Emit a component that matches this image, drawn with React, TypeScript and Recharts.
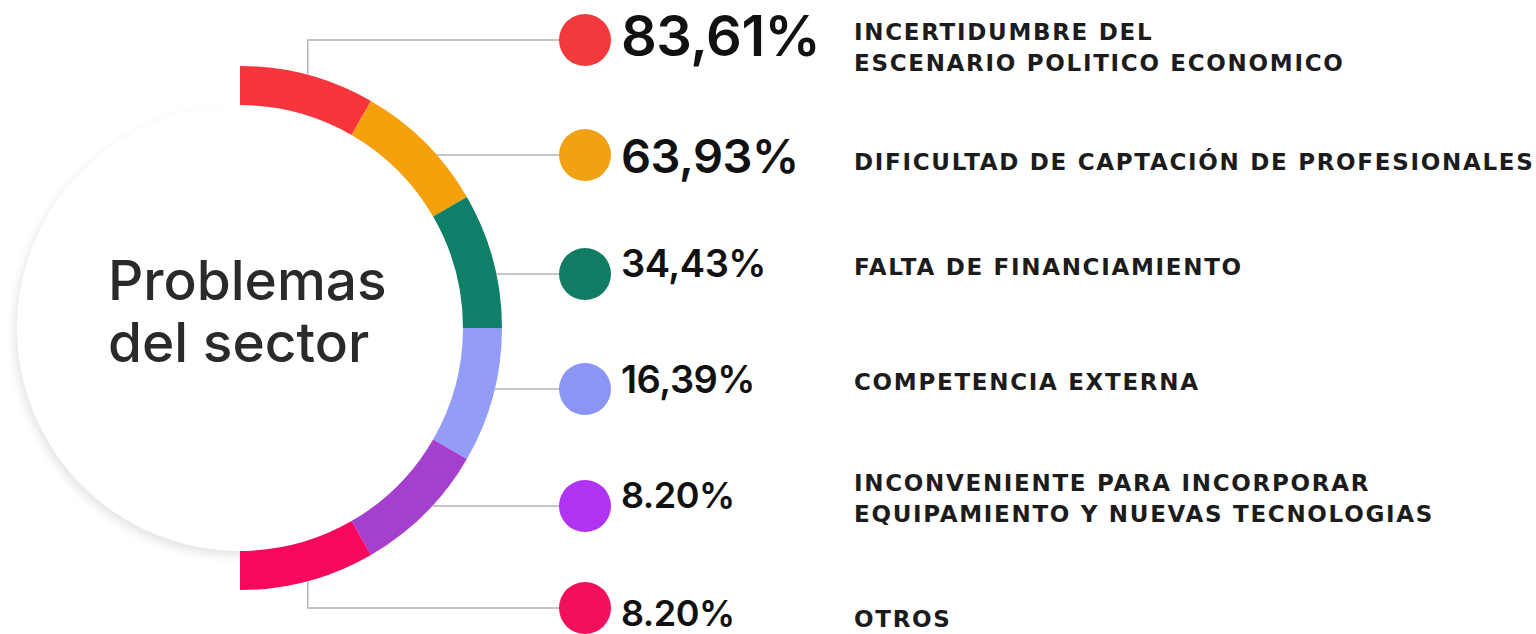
import React from 'react';
import { PieChart, Pie, Cell } from 'recharts';

// problems reported by the sector (share of respondents)
const problems = [
  'INCERTIDUMBRE DEL|ESCENARIO POLITICO ECONOMICO',
  'DIFICULTAD DE CAPTACIÓN DE PROFESIONALES',
  'FALTA DE FINANCIAMIENTO',
  'COMPETENCIA EXTERNA',
  'INCONVENIENTE PARA INCORPORAR|EQUIPAMIENTO Y NUEVAS TECNOLOGIAS',
  'OTROS',
];
const percents = [83.61, 63.93, 34.43, 16.39, 8.2, 8.2];
const percentLabels = ['83,61%', '63,93%', '34,43%', '16,39%', '8.20%', '8.20%'];
// the ring in the original splits the half circle evenly
const arcShare = [1, 1, 1, 1, 1, 1];

const ringColors = ['#f8343c', '#f6a00c', '#0e7f68', '#939cf7', '#a53fcd', '#f6085c'];
const dotColors = ['#f23a3c', '#f2a112', '#117b63', '#8b96f4', '#b033f4', '#f2105c'];

// row layout: dot centre y, percentage baseline, percentage size, first text baseline
const rows = [
  { dotY: 40, pctY: 56, pctSize: 56, textY: 40 },
  { dotY: 155, pctY: 173, pctSize: 47, textY: 170 },
  { dotY: 274, pctY: 277, pctSize: 38, textY: 275 },
  { dotY: 389, pctY: 393, pctSize: 38, textY: 390 },
  { dotY: 506, pctY: 508, pctSize: 36, textY: 491 },
  { dotY: 608, pctY: 626, pctSize: 36, textY: 627 },
];

const data = problems.map((name, i) => ({
  name,
  percent: percents[i],
  label: percentLabels[i],
  share: arcShare[i],
}));

const CX = 240;
const CY = 328;
const OUTER = 262;
const INNER = 223;
const DOT_X = 585;
const DOT_R = 26;
const PCT_X = 621;
const TEXT_X = 854;

const renderRow = (props: any) => {
  const { cx, cy, midAngle, outerRadius, index } = props;
  const row = rows[index];
  const dy = row.dotY - cy;
  let path: string;
  if (Math.abs(dy) < outerRadius) {
    const sx = cx + Math.sqrt(outerRadius * outerRadius - dy * dy);
    path = `M${sx},${row.dotY} L${DOT_X},${row.dotY}`;
  } else {
    const rad = (midAngle * Math.PI) / 180;
    const ex = cx + outerRadius * Math.cos(rad);
    const ey = cy - outerRadius * Math.sin(rad);
    path = `M${ex},${ey} L${ex},${row.dotY} L${DOT_X},${row.dotY}`;
  }
  const lines = data[index].name.split('|');
  return (
    <g key={`row-${index}`}>
      <path d={path} stroke="#b3b3b3" strokeWidth={1.5} fill="none" />
      <circle cx={DOT_X} cy={row.dotY} r={DOT_R} fill={dotColors[index]} />
      <text
        x={PCT_X}
        y={row.pctY}
        fontFamily="Inter, sans-serif"
        fontWeight={600}
        fontSize={row.pctSize}
        letterSpacing={-0.5}
        fill="#111111"
      >
        {data[index].label}
      </text>
      {lines.map((l, j) => (
        <text
          key={j}
          x={TEXT_X}
          y={row.textY + j * 31}
          fontFamily="'DejaVu Sans', sans-serif"
          fontWeight={700}
          fontSize={23}
          letterSpacing={1.7}
          fill="#1c1c1c"
        >
          {l}
        </text>
      ))}
    </g>
  );
};

export default function App() {
  return (
    <div style={{ position: 'relative', width: 1536, height: 634, background: '#ffffff' }}>
      <style>{`body{margin:0}`}</style>
      <div
        style={{
          position: 'absolute',
          left: CX - INNER,
          top: CY - INNER,
          width: INNER * 2,
          height: INNER * 2,
          borderRadius: '50%',
          background: '#ffffff',
          boxShadow: '-3px 5px 10px rgba(0,0,0,0.10)',
        }}
      />
      <div
        style={{
          position: 'absolute',
          left: 108,
          top: 249,
          fontFamily: 'Inter, sans-serif',
          fontWeight: 500,
          fontSize: 55,
          lineHeight: '62px',
          color: '#2a2a2a',
        }}
      >
        Problemas
        <br />
        del sector
      </div>
      <div style={{ position: 'absolute', left: 0, top: 0 }}>
        <PieChart width={1536} height={634} margin={{ top: 0, right: 0, bottom: 0, left: 0 }}>
          <Pie
            data={data}
            dataKey="share"
            nameKey="name"
            cx={CX}
            cy={CY}
            innerRadius={INNER}
            outerRadius={OUTER}
            startAngle={90}
            endAngle={-90}
            stroke="none"
            label={renderRow}
            labelLine={false}
            isAnimationActive={false}
          >
            {data.map((d, i) => (
              <Cell key={d.name} fill={ringColors[i]} />
            ))}
          </Pie>
        </PieChart>
      </div>
    </div>
  );
}
